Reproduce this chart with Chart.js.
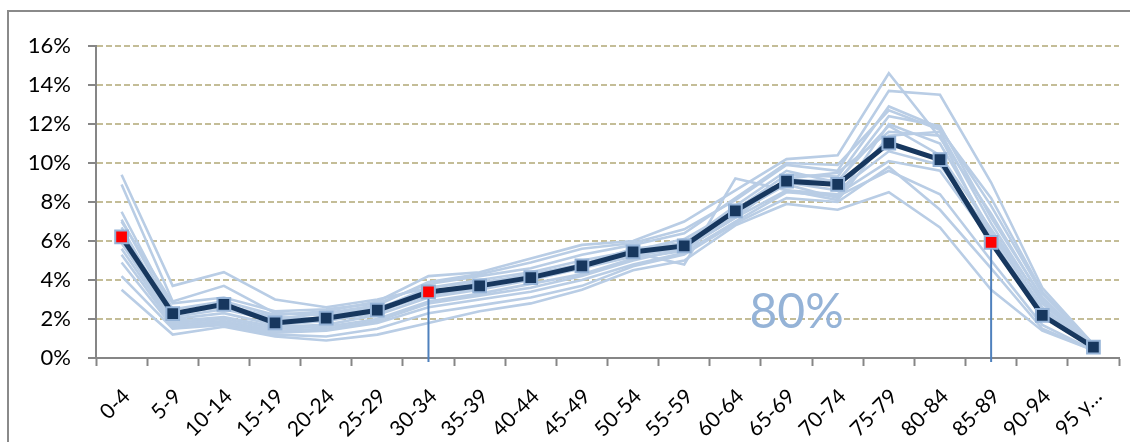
<!DOCTYPE html>
<html>
<head>
<meta charset="utf-8">
<script src="https://cdn.jsdelivr.net/npm/chart.js@4/dist/chart.umd.min.js"></script>
<style>
  html, body { margin: 0; padding: 0; background: #fff; overflow: hidden; }
  #frame { position: absolute; left: 7px; top: 10px; width: 1200px; height: 500px; border: 2px solid #8a8a8a; }
  #chart { position: absolute; left: 0; top: 0; }
</style>
</head>
<body>
<div id="frame"></div>
<canvas id="chart" width="1130" height="442"></canvas>
<script>
// age groups
const ageGroups = ["0-4", "5-9", "10-14", "15-19", "20-24", "25-29", "30-34", "35-39", "40-44", "45-49",
  "50-54", "55-59", "60-64", "65-69", "70-74", "75-79", "80-84", "85-89", "90-94", "95 y…"];

// highlighted series (%)
const mainSeries = [6.21, 2.27, 2.75, 1.80, 2.04, 2.45, 3.39, 3.70, 4.12, 4.72,
  5.44, 5.75, 7.55, 9.07, 8.90, 11.02, 10.17, 5.93, 2.19, 0.56];

// points shown in red (index into ageGroups)
const redPoints = [0, 6, 17];
// points with a drop line to the axis
const dropPoints = [6, 17];

// background series (%)
const bg1 = [9.4, 3.7, 4.4, 3.0, 2.6, 3.0, 3.6, 3.9, 4.2, 4.8, 5.3, 5.6, 7.2, 8.6, 8.4, 10.1, 9.6, 6.0, 2.4, 0.5];
const bg2 = [8.9, 2.9, 3.7, 2.3, 2.2, 2.6, 3.3, 3.6, 4.1, 4.6, 5.2, 5.7, 7.3, 9.0, 8.6, 10.6, 9.9, 6.4, 2.5, 0.6];
const bg3 = [7.5, 2.5, 2.9, 2.2, 2.4, 2.9, 4.2, 4.4, 5.1, 5.8, 6.0, 7.0, 8.6, 10.2, 10.4, 14.6, 11.3, 7.4, 3.0, 0.6];
const bg4 = [7.1, 2.3, 2.6, 2.0, 2.3, 2.7, 3.9, 4.3, 4.9, 5.6, 5.9, 6.6, 8.1, 9.9, 9.6, 13.7, 13.5, 9.0, 3.6, 0.7];
const bg5 = [6.7, 2.1, 2.5, 1.9, 2.1, 2.5, 3.6, 4.0, 4.4, 5.0, 5.5, 6.1, 7.6, 9.4, 9.3, 12.9, 11.8, 7.8, 3.3, 0.7];
const bg6 = [6.3, 2.0, 2.3, 1.7, 1.9, 2.3, 3.4, 3.8, 4.3, 4.8, 5.6, 5.9, 7.8, 9.6, 9.0, 12.4, 11.9, 7.2, 3.1, 0.6];
const bg7 = [5.9, 1.9, 2.1, 1.6, 1.7, 2.2, 3.1, 3.5, 4.0, 4.6, 5.4, 4.8, 9.2, 8.6, 8.1, 11.4, 11.6, 6.9, 2.8, 0.5];
const bg8 = [5.6, 1.8, 2.0, 1.5, 1.6, 2.0, 2.9, 3.3, 3.8, 4.3, 5.1, 5.5, 7.4, 8.9, 8.2, 12.0, 11.0, 6.5, 2.6, 0.5];
const bg9 = [5.3, 1.7, 1.9, 1.4, 1.5, 1.9, 2.8, 3.2, 3.6, 4.2, 5.0, 5.6, 7.2, 9.2, 9.5, 11.6, 11.4, 6.2, 2.2, 0.5];
const bg10 = [4.9, 1.6, 1.8, 1.3, 1.4, 1.8, 2.6, 3.0, 3.4, 4.0, 4.8, 5.4, 7.0, 8.5, 8.3, 9.6, 8.4, 5.0, 1.7, 0.4];
const bg11 = [4.2, 1.5, 1.7, 1.2, 1.1, 1.5, 2.3, 2.7, 3.1, 3.7, 4.7, 5.3, 6.9, 8.2, 8.0, 9.8, 7.6, 4.6, 1.5, 0.4];
const bg12 = [3.5, 1.2, 1.6, 1.1, 0.9, 1.2, 1.8, 2.4, 2.8, 3.5, 4.5, 5.0, 6.8, 7.9, 7.6, 8.5, 6.7, 3.5, 1.4, 0.4];
const bg13 = [7.0, 2.8, 3.1, 2.4, 2.5, 2.8, 3.8, 4.2, 4.6, 5.3, 5.8, 6.4, 8.2, 10.0, 9.9, 12.7, 11.7, 8.2, 3.4, 0.7];
const bg14 = [6.5, 2.2, 2.7, 2.1, 2.0, 2.4, 3.2, 3.6, 4.2, 4.7, 5.4, 5.8, 7.5, 9.1, 9.1, 11.9, 10.4, 6.6, 2.9, 0.6];
const bgSeries = [bg1, bg2, bg3, bg4, bg5, bg6, bg7, bg8, bg9, bg10, bg11, bg12, bg13, bg14];

const yTicks = [0, 2, 4, 6, 8, 10, 12, 14, 16];
const noteText = "80%";
const noteValue = 1.55;   // baseline of the note, in %
const noteCategory = 13;  // note sits near this category

const FONT = "Lato, 'Noto Sans', sans-serif";

const datasets = [{
  label: "main",
  data: mainSeries,
  borderColor: "#17375e",
  borderWidth: 5,
  pointStyle: "rect",
  pointRadius: 9,
  pointBorderWidth: 2,
  pointBorderColor: "#95b3d7",
  pointBackgroundColor: mainSeries.map((v, i) => (redPoints.includes(i) ? "#ff0000" : "#17375e")),
  tension: 0,
  order: 0,
}];
bgSeries.forEach((s, i) => {
  datasets.push({
    label: "s" + (i + 1),
    data: s,
    borderColor: "#b9cde5",
    borderWidth: 2.6,
    pointRadius: 0,
    tension: 0,
    order: 1,
  });
});

// drop lines from red points and the "80%" note
const extras = {
  id: "extras",
  afterDatasetsDraw(chart) {
    const { ctx, scales: { x, y } } = chart;
    const meta = chart.getDatasetMeta(0);
    ctx.save();
    ctx.strokeStyle = "#4f81bd";
    ctx.lineWidth = 2;
    dropPoints.forEach((i) => {
      const p = meta.data[i];
      ctx.beginPath();
      ctx.moveTo(p.x, p.y + 7);
      ctx.lineTo(p.x, y.bottom + 4);
      ctx.stroke();
    });
    ctx.fillStyle = "#95b3d7";
    ctx.font = "48px " + FONT;
    ctx.textAlign = "center";
    ctx.textBaseline = "alphabetic";
    ctx.fillText(noteText, x.getPixelForValue(noteCategory) + 10, y.getPixelForValue(noteValue));
    ctx.restore();
  },
};

new Chart(document.getElementById("chart"), {
  type: "line",
  data: { labels: ageGroups, datasets },
  options: {
    responsive: false,
    animation: false,
    events: [],
    layout: { padding: { top: 46, right: 5, left: 0, bottom: 0 } },
    plugins: { legend: { display: false }, tooltip: { enabled: false } },
    scales: {
      x: {
        offset: true,
        grid: { offset: true, drawOnChartArea: false, drawTicks: true, tickLength: 8, tickColor: "#868686", tickWidth: 2 },
        border: { color: "#868686", width: 2 },
        ticks: {
          autoSkip: false,
          maxRotation: 45,
          minRotation: 45,
          padding: 18,
          labelOffset: 5,
          color: "#000",
          font: { family: FONT, size: 21 },
        },
        afterFit(scale) { scale.height = 84; },
      },
      y: {
        min: 0,
        max: 16,
        afterBuildTicks(scale) { scale.ticks = yTicks.map((v) => ({ value: v })); },
        grid: { color: "#c4bd97", lineWidth: 2, tickLength: 8, tickColor: "#868686", tickWidth: 2 },
        border: { color: "#868686", width: 2, dash: [6, 3] },
        ticks: {
          padding: 17,
          color: "#000",
          font: { family: FONT, size: 22 },
          callback: (v) => v + "%",
        },
        afterFit(scale) { scale.width = 96; },
      },
    },
  },
  plugins: [extras],
});
</script>
</body>
</html>
